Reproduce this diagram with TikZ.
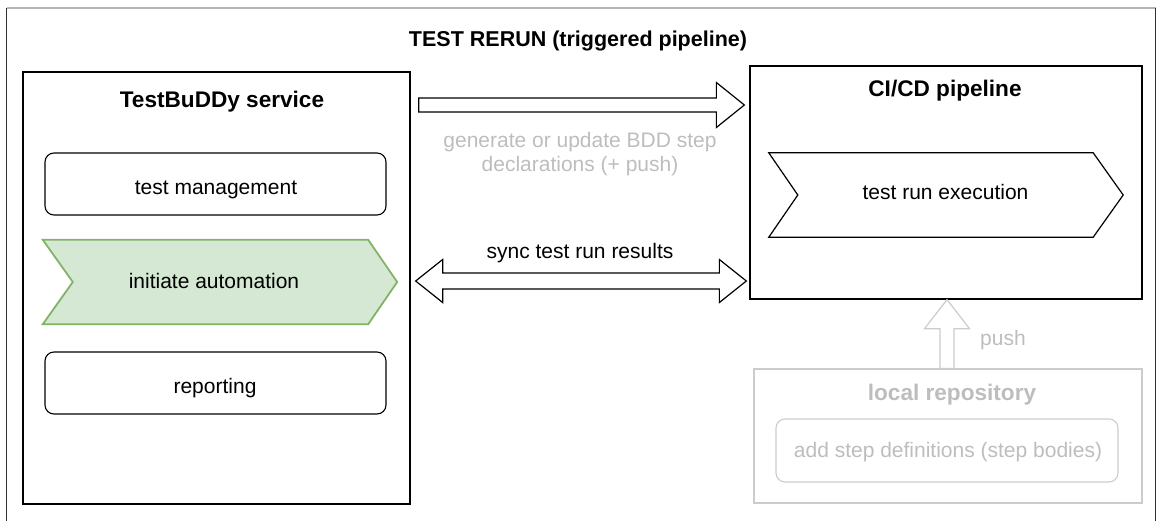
\documentclass[tikz,border=0pt]{standalone}
\usepackage{fontspec}
\setmainfont{Liberation Sans}
\usetikzlibrary{calc,backgrounds}
\definecolor{lgray}{HTML}{BDBDBD}
\definecolor{lbord}{HTML}{CCCCCC}
\definecolor{gfill}{HTML}{D5E8D4}
\definecolor{gline}{HTML}{82B366}
\definecolor{frametop}{HTML}{B4B4B4}
\definecolor{frameside}{HTML}{303030}
\tikzset{
  txt/.style={font=\fontsize{21}{25}\selectfont, inner sep=0pt, anchor=base},
  btxt/.style={font=\fontsize{22.6}{26}\selectfont\bfseries, inner sep=0pt, anchor=base},
  box/.style={draw=black, line width=1.3pt, inner sep=0pt},
  rbox/.style={draw=black, line width=1.1pt, rounded corners=9pt, inner sep=0pt},
  shapebox/.style={inner sep=0pt},
  blockarrow/.style={draw=black, line width=1.2pt, fill=white, line join=miter},
}
\begin{document}
\begin{tikzpicture}[x=1pt,y=-1pt]
\useasboundingbox (0,0) rectangle (1157,520);
% outer frame
\draw[frametop, line width=1.2pt] (6.5,8) -- (1155.5,8);
\draw[frameside, line width=1.6pt] (6.5,521) -- (6.5,8);
\draw[frameside, line width=1.6pt] (1155.5,521) -- (1155.5,8);
\node[txt, font=\fontsize{21.5}{25}\selectfont\bfseries] (title) at (578,46) {TEST RERUN (triggered pipeline)};

% TestBuDDy service
\node[box, minimum width=387pt, minimum height=432pt] (tb) at (216.5,288) {};
\node[btxt] (tbt) at (222,107) {TestBuDDy service};
\node[rbox, minimum width=341pt, minimum height=62pt] (tm) at (215.5,184) {};
\node[txt] (tmt) at (216,194) {test management};
\node[shapebox, minimum width=354pt, minimum height=84pt] (ia) at (220,282) {};
\draw[draw=gline, fill=gfill, line width=1.8pt, line join=miter]
  (ia.north west) -- ($(ia.north east)+(-29,0)$) -- (ia.east) -- ($(ia.south east)+(-29,0)$)
  -- (ia.south west) -- ($(ia.west)+(30,0)$) -- cycle;
\node[txt] (iat) at (214,288) {initiate automation};
\node[rbox, minimum width=341pt, minimum height=62pt] (rp) at (215.5,383) {};
\node[txt] (rpt) at (215,393) {reporting};

% CI/CD pipeline
\node[box, minimum width=392pt, minimum height=233pt] (ci) at (946,182.5) {};
\node[btxt] (cit) at (945,96) {CI/CD pipeline};
\node[shapebox, minimum width=354pt, minimum height=84pt] (tre) at (946,195) {};
\draw[draw=black, line width=1.2pt, line join=miter]
  (tre.north west) -- ($(tre.north east)+(-30,0)$) -- (tre.east) -- ($(tre.south east)+(-30,0)$)
  -- (tre.south west) -- ($(tre.west)+(29,0)$) -- cycle;
\node[txt] (tret) at (945.5,199) {test run execution};

% local repository
\node[draw=lbord, line width=1.3pt, minimum width=388pt, minimum height=134pt, inner sep=0pt] (lr) at (948,436) {};
\node[btxt, text=lgray] (lrt) at (952,400) {local repository};
\node[draw=lbord, line width=1.1pt, rounded corners=9pt, minimum width=342pt, minimum height=63pt, inner sep=0pt] (sd) at (947,450.5) {};
\node[txt, text=lgray] (sdt) at (948,457) {add step definitions (step bodies)};

% top arrow: TestBuDDy -> CI/CD
\coordinate (a1s) at ($(tb.east |- 0,105)+(8,0)$);
\coordinate (a1e) at ($(ci.west |- 0,105)+(-5,0)$);
\draw[blockarrow] ($(a1s)+(0,-7)$) -- ($(a1e)+(-28,-7)$) -- ($(a1e)+(-28,-22.5)$) -- (a1e)
  -- ($(a1e)+(-28,22.5)$) -- ($(a1e)+(-28,7)$) -- ($(a1s)+(0,7)$) -- cycle;
\node[txt, text=lgray] (genlbl1) at (580,147) {generate or update BDD step};
\node[txt, text=lgray] (genlbl2) at (580,171) {declarations (+ push)};

% sync arrow (double)
\coordinate (a2s) at ($(tb.east |- 0,281)+(5,0)$);
\coordinate (a2e) at ($(ci.west |- 0,281)+(-3,0)$);
\draw[blockarrow] (a2s) -- ($(a2s)+(27,-21.5)$) -- ($(a2s)+(27,-8)$) -- ($(a2e)+(-27,-8)$)
  -- ($(a2e)+(-27,-21.5)$) -- (a2e) -- ($(a2e)+(-27,21.5)$) -- ($(a2e)+(-27,8)$)
  -- ($(a2s)+(27,8)$) -- ($(a2s)+(27,21.5)$) -- cycle;
\node[txt] (synclbl) at (580,258) {sync test run results};

% push arrow
\coordinate (a3s) at (lr.north -| 947,0);
\coordinate (a3e) at (ci.south -| 947,0);
\draw[blockarrow, draw=lbord] ($(a3s)+(-7,0)$) -- ($(a3e)+(-7,29)$) -- ($(a3e)+(-22.5,29)$) -- (a3e)
  -- ($(a3e)+(22.5,29)$) -- ($(a3e)+(7,29)$) -- ($(a3s)+(7,0)$) -- cycle;
\node[txt, text=lgray] (pushlbl) at (1003,345) {push};
\end{tikzpicture}
\end{document}
